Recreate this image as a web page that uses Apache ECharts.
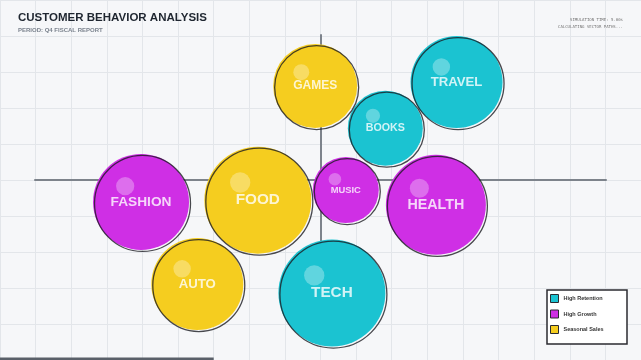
<!DOCTYPE html>
<html><head><meta charset="utf-8">
<script src="https://cdn.jsdelivr.net/npm/echarts@6/dist/echarts.min.js"></script>
<style>html,body{margin:0;padding:0;background:#f6f7f9;}#c{width:641px;height:360px;}</style>
</head><body><div id="c"></div>
<script>
const categories = ['GAMES','TRAVEL','BOOKS','FASHION','FOOD','MUSIC','HEALTH','TECH','AUTO'];
const segments = ['Seasonal Sales','High Retention','High Retention','High Growth','Seasonal Sales','High Growth','High Growth','High Retention','Seasonal Sales'];
const xValues = [-0.15, 3.82, 1.82, -5.04, -1.76, 0.71, 3.24, 0.32, -3.46];
const yValues = [2.61, 2.72, 1.44, -0.61, -0.56, -0.28, -0.69, -3.14, -2.89];
const volumes = [84, 92, 75, 96, 107, 66, 100, 107, 92];
const legendNames = ['High Retention','High Growth','Seasonal Sales'];

const COLORS = {'High Retention':'#1bc3d1','High Growth':'#cf2fe5','Seasonal Sales':'#f5cd1f'};
const FONT = '"Liberation Sans", Arial, sans-serif';

const series = [];
legendNames.forEach(seg => {
  const items = [];
  categories.forEach((c,i) => { if (segments[i]===seg) items.push({name:c, value:[xValues[i], yValues[i]], symbolSize: volumes[i]}); });
  series.push({
    name: seg, type:'scatter', xAxisIndex:0, yAxisIndex:0, symbol:'circle', z:2,
    itemStyle:{color:COLORS[seg], opacity:1}, emphasis:{disabled:true}, silent:true,
    data: items
  });
});
// offset dark outlines
series.push({
  name:'outline', type:'scatter', xAxisIndex:0, yAxisIndex:0, symbol:'circle', z:3, silent:true,
  itemStyle:{color:'transparent', borderColor:'#1c1c22', borderWidth:1.3},
  data: categories.map((c,i)=>({name:c, value:[xValues[i], yValues[i]], symbolSize: volumes[i], symbolOffset:[1.5,1.5]}))
});
// glossy highlights
series.push({
  name:'highlight', type:'scatter', xAxisIndex:0, yAxisIndex:0, symbol:'circle', z:4, silent:true,
  itemStyle:{color:'rgba(255,255,255,0.38)'},
  data: categories.map((c,i)=>({name:c, value:[xValues[i], yValues[i]], symbolSize: volumes[i]*0.19, symbolOffset:[-volumes[i]*0.165, -volumes[i]*0.165]}))
});
// labels
series.push({
  name:'labels', type:'scatter', xAxisIndex:0, yAxisIndex:0, symbol:'circle', z:5, silent:true,
  itemStyle:{color:'transparent'},
  label:{show:true, position:'inside', formatter:'{b}', color:'#fff', fontWeight:'bold', fontFamily:FONT},
  data: categories.map((c,i)=>({name:c, value:[xValues[i], yValues[i]], symbolSize: volumes[i], label:{fontSize: Math.round(volumes[i]*0.143*10)/10}}))
});

const chart = echarts.init(document.getElementById('c'), null, {renderer:'canvas'});
chart.setOption({
  backgroundColor:'#f6f7f9',
  animation:false,
  grid:[
    {left:-3.5, top:0, width:648, height:360},
    {left:35, right:35, top:35, bottom:35}
  ],
  xAxis:[
    {gridIndex:0, type:'value', min:-9, max:9, interval:1, axisLine:{show:false}, axisTick:{show:false}, axisLabel:{show:false}, splitLine:{show:true, lineStyle:{color:'#e3e6ea', width:1}}},
    {gridIndex:1, type:'value', min:-1, max:1, axisLine:{show:true, onZero:true, lineStyle:{color:'#7d838b', width:2}}, axisTick:{show:false}, axisLabel:{show:false}, splitLine:{show:false}}
  ],
  yAxis:[
    {gridIndex:0, type:'value', min:-5, max:5, interval:1, axisLine:{show:false}, axisTick:{show:false}, axisLabel:{show:false}, splitLine:{show:true, lineStyle:{color:'#e3e6ea', width:1}}},
    {gridIndex:1, type:'value', min:-1, max:1, axisLine:{show:true, onZero:true, lineStyle:{color:'#7d838b', width:2}}, axisTick:{show:false}, axisLabel:{show:false}, splitLine:{show:false}}
  ],
  legend:{
    data: legendNames.map(n=>({name:n, icon:'rect'})),
    orient:'vertical', left:550, top:294, padding:0, itemWidth:8, itemHeight:8, itemGap:6.5, z:20,
    itemStyle:{borderColor:'#2a2a30', borderWidth:1},
    textStyle:{fontSize:5.5, fontWeight:'bold', color:'#333', fontFamily:FONT},
    selectedMode:false
  },
  graphic:[
    {type:'rect', z:10, shape:{x:547, y:290, width:80, height:54}, style:{fill:'#ffffff', stroke:'#2b2b30', lineWidth:1.5}},
    {type:'text', z:10, x:18, y:18, style:{text:'CUSTOMER BEHAVIOR ANALYSIS', font:'bold 11.5px '+FONT, fill:'#1f2630', textVerticalAlign:'middle'}},
    {type:'text', z:10, x:18, y:30, style:{text:'PERIOD: Q4 FISCAL REPORT', font:'bold 6px '+FONT, fill:'#7b838e', textVerticalAlign:'middle'}},
    {type:'text', z:10, x:623, y:20, style:{text:'SIMULATION TIME: 5.00s', font:'4px "DejaVu Sans Mono", monospace', fill:'#777', textAlign:'right', textVerticalAlign:'middle'}},
    {type:'text', z:10, x:623, y:27, style:{text:'CALCULATING VECTOR PATHS...', font:'4px "DejaVu Sans Mono", monospace', fill:'#777', textAlign:'right', textVerticalAlign:'middle'}},
    {type:'rect', z:10, shape:{x:0, y:357.5, width:213.7, height:2.5}, style:{fill:'#5a6069'}}
  ],
  series: series
});
</script></body></html>
